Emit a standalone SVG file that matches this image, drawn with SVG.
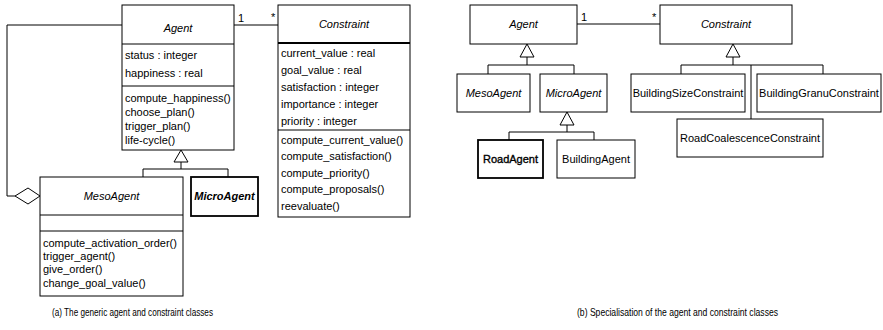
<svg xmlns="http://www.w3.org/2000/svg" width="883" height="330" viewBox="0 0 883 330">
  <style>
    .box { fill: #fff; stroke: #000; stroke-width: 1; }
    .heavy { fill: #fff; stroke: #000; stroke-width: 1.8; }
    .sep { stroke: #000; stroke-width: 1; }
    .sepb { stroke: #000; stroke-width: 2; }
    .ln { fill: none; stroke: #000; stroke-width: 1; }
    .gen { fill: #fff; stroke: #000; stroke-width: 1; }
    text { font-family: "Liberation Sans", Arial, sans-serif; font-size: 11px; fill: #000; }
    .t { text-anchor: middle; }
    .it { font-style: italic; }
    .bi { font-style: italic; font-weight: bold; }
    .semi { stroke: #000; stroke-width: 0.35; }
    .cap { font-size: 11px; }
  </style>

  <rect width="883" height="330" fill="#fff"/>

  <!-- connectors -->
  <g id="connectors">
    <!-- (a) association Agent - Constraint -->
    <line class="ln" x1="234" y1="25" x2="278" y2="25"/>
    <text x="238" y="22">1</text>
    <text x="271" y="21">*</text>
    <!-- (a) aggregation MesoAgent -> Agent -->
    <polyline class="ln" points="122,25 7,25 7,196 15,196"/>
    <polygon class="gen" points="15,196 28,188 40,196 28,204"/>
    <!-- (a) generalisation -->
    <polyline class="ln" points="143,177 143,169 228,169 228,177"/>
    <line class="ln" x1="181" y1="162" x2="181" y2="169"/>
    <polygon class="gen" points="181,150 174,162 188,162"/>

    <!-- (b) association -->
    <line class="ln" x1="577" y1="24" x2="660" y2="24"/>
    <text x="581" y="21">1</text>
    <text x="652" y="21">*</text>
    <!-- (b) Agent generalisation -->
    <polyline class="ln" points="488,74 488,65 574,65 574,74"/>
    <line class="ln" x1="527" y1="57" x2="527" y2="65"/>
    <polygon class="gen" points="527,44 520,57 534,57"/>
    <!-- (b) MicroAgent generalisation -->
    <polyline class="ln" points="509,140 509,132 594,132 594,140"/>
    <line class="ln" x1="567" y1="125" x2="567" y2="132"/>
    <polygon class="gen" points="567,112 560,125 574,125"/>
    <!-- (b) Constraint generalisation -->
    <polyline class="ln" points="681,74 681,65 823,65 823,74"/>
    <line class="ln" x1="751" y1="65" x2="751" y2="119"/>
    <line class="ln" x1="733" y1="57" x2="733" y2="65"/>
    <polygon class="gen" points="733,44 726,57 740,57"/>
  </g>

  <!-- (a) generic classes -->
  <g id="a-agent">
    <rect class="box" x="122" y="5" width="112" height="145"/>
    <line class="sep" x1="122" y1="44" x2="234" y2="44"/>
    <line class="sep" x1="122" y1="86" x2="234" y2="86"/>
    <text class="t it" x="178" y="32">Agent</text>
    <text x="125" y="59">status : integer</text>
    <text x="125" y="77">happiness : real</text>
    <text x="125" y="102">compute_happiness()</text>
    <text x="125" y="116">choose_plan()</text>
    <text x="125" y="130">trigger_plan()</text>
    <text x="125" y="144">life-cycle()</text>
  </g>

  <g id="a-constraint">
    <rect class="box" x="278" y="5" width="132" height="212"/>
    <line class="sepb" x1="278" y1="43" x2="410" y2="43"/>
    <line class="sep" x1="278" y1="130" x2="410" y2="130"/>
    <text class="t it" x="344" y="28">Constraint</text>
    <text x="281" y="57">current_value : real</text>
    <text x="281" y="74">goal_value : real</text>
    <text x="281" y="91">satisfaction : integer</text>
    <text x="281" y="108">importance : integer</text>
    <text x="281" y="125">priority : integer</text>
    <text x="281" y="144">compute_current_value()</text>
    <text x="281" y="160">compute_satisfaction()</text>
    <text x="281" y="177">compute_priority()</text>
    <text x="281" y="193">compute_proposals()</text>
    <text x="281" y="210">reevaluate()</text>
  </g>

  <g id="a-mesoagent">
    <rect class="box" x="40" y="177" width="143" height="119"/>
    <line class="sep" x1="40" y1="215" x2="183" y2="215"/>
    <line class="sep" x1="40" y1="231" x2="183" y2="231"/>
    <text class="t it" x="111.5" y="200">MesoAgent</text>
    <text x="43" y="247">compute_activation_order()</text>
    <text x="43" y="260">trigger_agent()</text>
    <text x="43" y="273">give_order()</text>
    <text x="43" y="287">change_goal_value()</text>
  </g>

  <g id="a-microagent">
    <rect class="heavy" x="191" y="177" width="67" height="39"/>
    <text class="t bi" x="224.5" y="200">MicroAgent</text>
  </g>

  <!-- (b) specialisation -->
  <g id="b-agent">
    <rect class="box" x="470" y="5" width="107" height="39"/>
    <text class="t it" x="523.5" y="28">Agent</text>
  </g>
  <g id="b-constraint">
    <rect class="box" x="660" y="5" width="132" height="39"/>
    <text class="t it" x="726" y="28">Constraint</text>
  </g>
  <g id="b-mesoagent">
    <rect class="box" x="457" y="74" width="73" height="38"/>
    <text class="t it" x="493.5" y="97">MesoAgent</text>
  </g>
  <g id="b-microagent">
    <rect class="box" x="540" y="74" width="67" height="38"/>
    <text class="t it" x="573.5" y="97">MicroAgent</text>
  </g>
  <g id="b-roadagent">
    <rect class="heavy" x="478" y="140" width="65" height="38"/>
    <text class="t semi" x="510.5" y="163">RoadAgent</text>
  </g>
  <g id="b-buildingagent">
    <rect class="box" x="557" y="140" width="78" height="38"/>
    <text class="t" x="596" y="163">BuildingAgent</text>
  </g>
  <g id="b-buildingsize">
    <rect class="box" x="631" y="74" width="114" height="38"/>
    <text class="t" x="688" y="97">BuildingSizeConstraint</text>
  </g>
  <g id="b-buildinggranu">
    <rect class="box" x="757" y="74" width="124" height="38"/>
    <text class="t" x="819" y="97">BuildingGranuConstraint</text>
  </g>
  <g id="b-roadcoalescence">
    <rect class="box" x="677" y="119" width="146" height="38"/>
    <text class="t" x="750" y="142">RoadCoalescenceConstraint</text>
  </g>

  <!-- captions -->
  <text class="cap" x="52" y="316" textLength="161" lengthAdjust="spacingAndGlyphs">(a) The generic agent and constraint classes</text>
  <text class="cap" x="577" y="316" textLength="201" lengthAdjust="spacingAndGlyphs">(b) Specialisation of the agent and constraint classes</text>
</svg>
